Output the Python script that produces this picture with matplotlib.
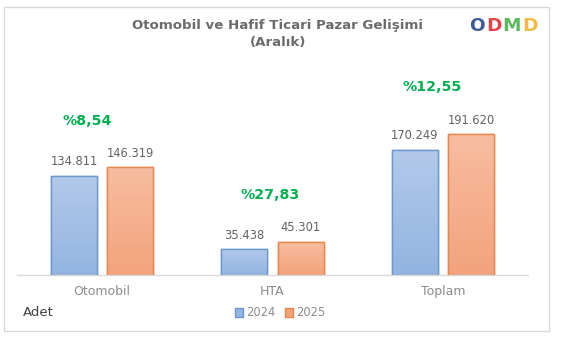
import numpy as np
import matplotlib
matplotlib.use("Agg")
import matplotlib.pyplot as plt
from matplotlib.colors import LinearSegmentedColormap
from matplotlib.patches import Rectangle

categories = ["Otomobil", "HTA", "Toplam"]
years = ["2024", "2025"]
values_2024 = [134811, 35438, 170249]
values_2025 = [146319, 45301, 191620]
growth_labels = ["%8,54", "%27,83", "%12,55"]
title = "Otomobil ve Hafif Ticari Pazar Gelişimi\n(Aralık)"
unit_label = "Adet"

W, H = 562, 337
fig = plt.figure(figsize=(W / 100, H / 100), dpi=100)
plt.rcParams['font.family'] = ['DejaVu Sans']

def fx(px):
    return px / W

def fy(py):
    return 1 - py / H

ax = fig.add_axes([fx(17), fy(275), fx(528) - fx(17), fy(60) - fy(275)])

x = np.arange(len(categories))
bw = 0.27
off = 0.165
fills = [("#B3C9EA", "#93B4E1"), ("#F7BDA0", "#F3A37C")]
edges = ["#6A97CE", "#E8854A"]

all_bars = []
for i, (vals, (ctop, cbot), ec) in enumerate(zip([values_2024, values_2025], fills, edges)):
    bars = ax.bar(x + (i * 2 - 1) * off, vals, width=bw, color=cbot, edgecolor=ec,
                  linewidth=1.0, label=years[i], zorder=2)
    cmap = LinearSegmentedColormap.from_list("g%d" % i, [cbot, ctop])
    grad = np.linspace(0, 1, 256).reshape(-1, 1)
    for b in bars:
        x0, y0 = b.get_x(), b.get_y()
        w, h = b.get_width(), b.get_height()
        im = ax.imshow(grad, cmap=cmap, origin="lower", aspect="auto",
                       extent=[x0, x0 + w, y0, y0 + h], zorder=2.5)
        im.set_clip_path(b)
        r = Rectangle((x0, y0), w, h, facecolor="none", edgecolor=ec, linewidth=1.0, zorder=3)
        ax.add_patch(r)
    for b, v in zip(bars, vals):
        ax.annotate(f"{v:,}".replace(",", "."), (b.get_x() + b.get_width() / 2, v),
                    xytext=(0, 10), textcoords="offset points", ha="center", va="center",
                    fontsize=8.3, color="#626262", zorder=4)
    all_bars.append(bars)

pct_dx = [-10.8, -1.4, -7.9]
for j, lab in enumerate(growth_labels):
    top = max(values_2024[j], values_2025[j])
    ax.annotate(lab, (x[j], top), xytext=(pct_dx[j], 33.5), textcoords="offset points",
                ha="center", va="center", fontsize=10.2, fontweight="bold",
                color="#00B050", annotation_clip=False)

ax.set_xlim(-0.5, 2.5)
ax.set_ylim(0, 292000)
ax.set_yticks([])
ax.set_xticks(x)
ax.set_xticklabels(categories, fontsize=9, color="#8C8C8C")
ax.tick_params(axis="x", length=0, pad=7)
for s in ["top", "right", "left"]:
    ax.spines[s].set_visible(False)
ax.spines["bottom"].set_color("#D9D9D9")
ax.spines["bottom"].set_linewidth(1)
ax.patch.set_alpha(0)

fig.text(fx(278), fy(34), title, ha="center", va="center", fontsize=9.6,
         fontweight="bold", color="#6B6B6B", linespacing=1.4)
fig.text(fx(23), fy(313), unit_label, ha="left", va="center", fontsize=9.5, color="#404040")

leg = fig.legend(handles=[all_bars[0], all_bars[1]], labels=years, loc="center",
                 bbox_to_anchor=(fx(280), fy(313)), ncol=2, frameon=False, fontsize=8.3,
                 handlelength=0.7, handleheight=0.7, handletextpad=0.3, columnspacing=0.8)
for t in leg.get_texts():
    t.set_color("#8C8C8C")

# logo
logo_letters = ["O", "D", "M", "D"]
logo_colors = ["#3F5B97", "#E2434B", "#5CB85C", "#F5B942"]
logo_x = [477, 493.5, 511.5, 529.5]
for L, c, lx in zip(logo_letters, logo_colors, logo_x):
    fig.text(fx(lx), fy(26), L, ha="center", va="center", fontsize=13.3,
             fontweight="bold", color=c)

fig.patches.append(Rectangle((fx(4), fy(331)), fx(549) - fx(4), fy(7) - fy(331),
                             transform=fig.transFigure, fill=False,
                             edgecolor="#D9D9D9", linewidth=1))

fig.savefig("out.png", dpi=100, facecolor="white")
